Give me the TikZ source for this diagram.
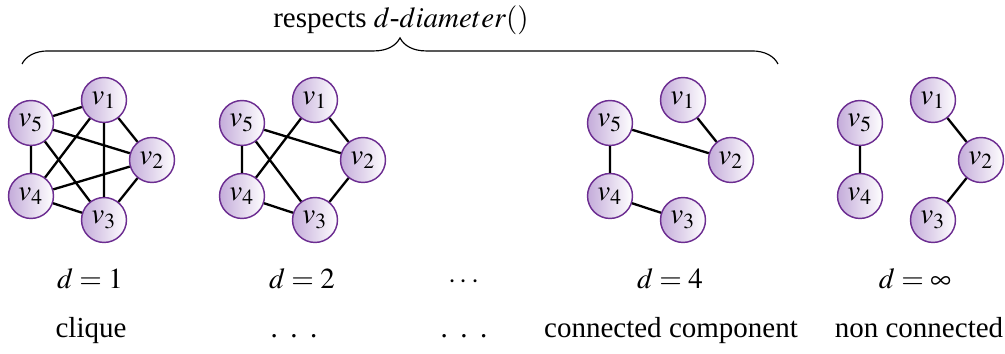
\documentclass[tikz,border=0pt]{standalone}
\usepackage{mathptmx}
\usepackage[no-math]{fontspec}
\setmainfont{Liberation Serif}
\usetikzlibrary{decorations.pathreplacing}
\definecolor{vborder}{RGB}{108,45,145}
\definecolor{vfill}{RGB}{196,172,218}
\newcommand{\wideldots}{.\kern4.3pt.\kern4.3pt.}
\tikzset{
    vertex/.style={circle, draw=vborder, line width=0.5pt, left color=vfill, right color=white, minimum size=15.5pt, inner sep=0pt},
    edge/.style={thick}
}

\begin{document}
\begin{tikzpicture}[x=0.3448pt, y=-0.3448pt]
    \useasboundingbox (0,0) rectangle (1005,354);

    \coordinate (bl) at (22,64);
    \coordinate (br) at (778,64);
    \draw[decorate, decoration={brace, amplitude=9pt}] (bl) -- (br);
    \node (resp) at (401,20) {respects $d$-$diameter()$};

    \begin{scope}
    \node[vertex] (a1) at (104,100) {$v_1$};
    \node[vertex] (a2) at (152,160) {$v_2$};
    \node[vertex] (a3) at (104,220) {$v_3$};
    \node[vertex] (a4) at (31,196) {$v_4$};
    \node[vertex] (a5) at (31,123) {$v_5$};
    \draw[edge] (a1) -- (a2) (a1) -- (a3) (a1) -- (a4) (a1) -- (a5);
    \draw[edge] (a2) -- (a3) (a2) -- (a4) (a2) -- (a5);
    \draw[edge] (a3) -- (a4) (a3) -- (a5) (a4) -- (a5);
    \end{scope}

    \begin{scope}[shift={(211,0)}]
    \node[vertex] (b1) at (104,100) {$v_1$};
    \node[vertex] (b2) at (152,160) {$v_2$};
    \node[vertex] (b3) at (104,220) {$v_3$};
    \node[vertex] (b4) at (31,196) {$v_4$};
    \node[vertex] (b5) at (31,123) {$v_5$};
    \draw[edge] (b1) -- (b2) (b2) -- (b3) (b3) -- (b4) (b4) -- (b5);
    \draw[edge] (b5) -- (b2) (b5) -- (b3) (b1) -- (b4);
    \end{scope}

    \begin{scope}[shift={(579,0)}]
    \node[vertex] (c1) at (104,100) {$v_1$};
    \node[vertex] (c2) at (152,160) {$v_2$};
    \node[vertex] (c3) at (104,220) {$v_3$};
    \node[vertex] (c4) at (31,196) {$v_4$};
    \node[vertex] (c5) at (31,123) {$v_5$};
    \draw[edge] (c1) -- (c2) (c2) -- (c5) (c5) -- (c4) (c4) -- (c3);
    \end{scope}

    \begin{scope}[shift={(829,0)}]
    \node[vertex] (e1) at (104,100) {$v_1$};
    \node[vertex] (e2) at (152,160) {$v_2$};
    \node[vertex] (e3) at (104,220) {$v_3$};
    \node[vertex] (e4) at (31,196) {$v_4$};
    \node[vertex] (e5) at (31,123) {$v_5$};
    \draw[edge] (e5) -- (e4) (e1) -- (e2) (e2) -- (e3);
    \end{scope}

    \node[anchor=base] (d1) at (90,289) {$d=1$};
    \node[anchor=base] (d2) at (302,289) {$d=2$};
    \node[anchor=base] (d3) at (464,289) {$\cdots$};
    \node[anchor=base] (d4) at (670,289) {$d=4$};
    \node[anchor=base] (d5) at (915,289) {$d=\infty$};

    \node[anchor=base] (n1) at (91,338) {clique};
    \node[anchor=base] (n2) at (294,338) {\wideldots};
    \node[anchor=base] (n3) at (464,338) {\wideldots};
    \node[anchor=base] (n4) at (671,338) {connected component};
    \node[anchor=base] (n5) at (919,338) {non connected};
\end{tikzpicture}
\end{document}
